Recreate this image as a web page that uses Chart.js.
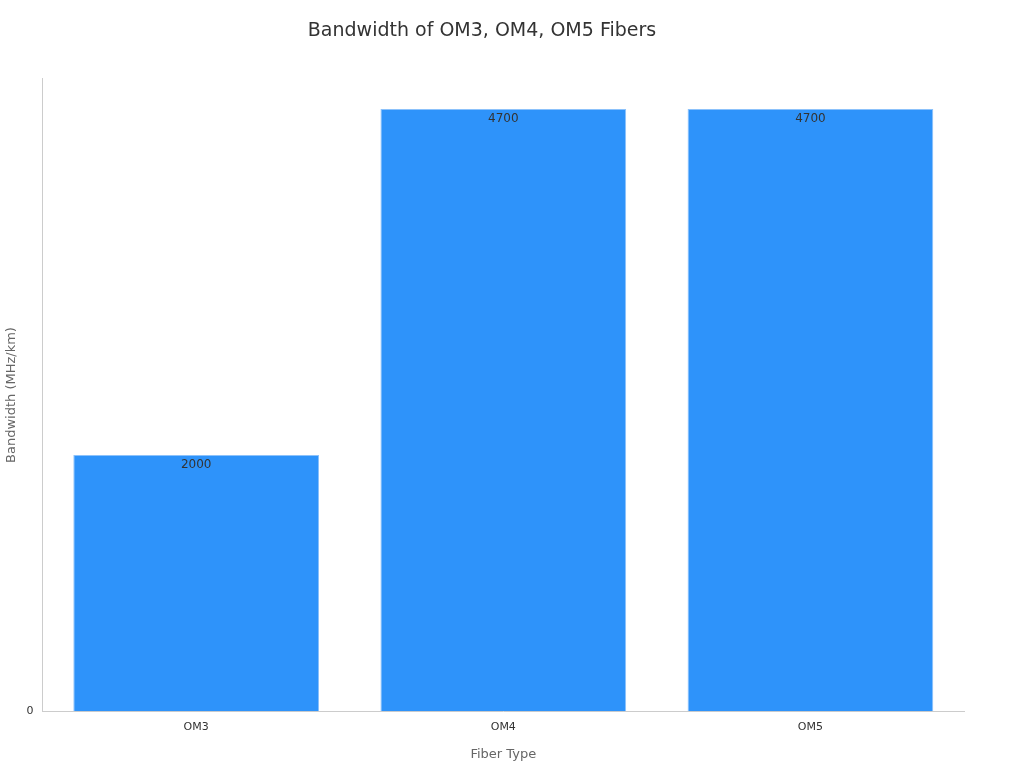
<!DOCTYPE html>
<html><head><meta charset="utf-8">
<script src="https://cdn.jsdelivr.net/npm/chart.js@4"></script>
<style>html,body{margin:0;background:#fff}#w{width:1024px;height:768px}</style>
</head><body><div id="w"><canvas id="c"></canvas></div>
<script>
const categories = ["OM3", "OM4", "OM5"];
const bandwidth = [2000, 4700, 4700];
const valueLabels = ["2000", "4700", "4700"];

const labelPlugin = {
  id: 'vl',
  afterDatasetsDraw(chart) {
    const ctx = chart.ctx;
    const meta = chart.getDatasetMeta(0);
    ctx.save();
    ctx.font = '12px "DejaVu Sans"';
    ctx.fillStyle = '#333';
    ctx.textAlign = 'center';
    ctx.textBaseline = 'middle';
    meta.data.forEach((b, i) => ctx.fillText(valueLabels[i], b.x, b.y + 10));
    ctx.restore();
  }
};

new Chart(document.getElementById('c'), {
  type: 'bar',
  data: { labels: categories, datasets: [{ data: bandwidth, backgroundColor: '#2E93FA', borderColor: '#8cc2fb', borderWidth: 1, barPercentage: 0.8, categoryPercentage: 1 }] },
  options: {
    responsive: true, maintainAspectRatio: false, animation: false,
    layout: { padding: { left: 0, right: 60, top: 10, bottom: 2 } },
    plugins: {
      legend: { display: false }, tooltip: { enabled: false },
      title: { display: true, text: 'Bandwidth of OM3, OM4, OM5 Fibers', color: '#333', font: { family: 'DejaVu Sans', size: 19, weight: 'normal' }, padding: { top: 10, bottom: 36 } }
    },
    scales: {
      x: {
        grid: { display: false, drawTicks: true, tickLength: 6, color: '#ccc' },
        border: { color: '#ccc' },
        ticks: { color: '#333', font: { family: 'DejaVu Sans', size: 11 } },
        title: { display: true, text: 'Fiber Type', color: '#666', font: { family: 'DejaVu Sans', size: 13 }, padding: { top: 10 } }
      },
      y: {
        min: 0, max: 4935,
        grid: { display: false, drawTicks: true, tickLength: 6, color: '#ccc' },
        border: { color: '#ccc' },
        afterBuildTicks: ax => { ax.ticks = ax.ticks.filter(t => t.value % 500 === 0); },
        ticks: { stepSize: 500, color: '#333', font: { family: 'DejaVu Sans', size: 11 } },
        title: { display: true, text: 'Bandwidth (MHz/km)', color: '#666', font: { family: 'DejaVu Sans', size: 13 } }
      }
    }
  },
  plugins: [labelPlugin]
});
</script></body></html>
